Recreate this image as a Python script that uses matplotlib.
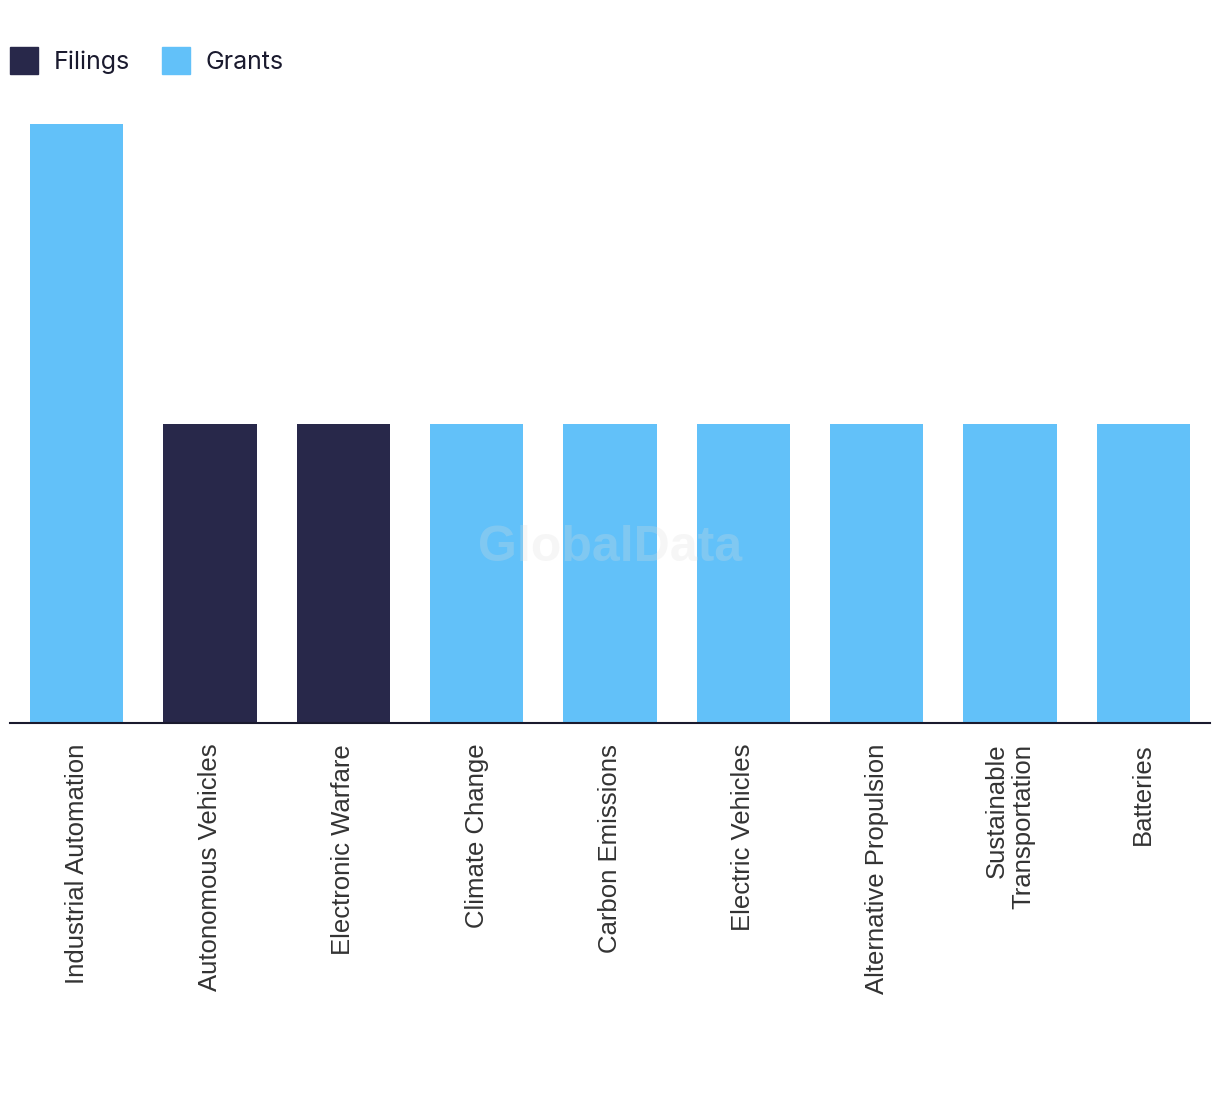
import matplotlib
matplotlib.use('Agg')
import matplotlib.pyplot as plt
from matplotlib.patches import Patch
import numpy as np

categorias = ["Industrial Automation", "Autonomous Vehicles", "Electronic Warfare",
              "Climate Change", "Carbon Emissions", "Electric Vehicles",
              "Alternative Propulsion", "Sustainable\nTransportation", "Batteries"]
filings = [0, 1, 1, 0, 0, 0, 0, 0, 0]
grants = [2, 0, 0, 1, 1, 1, 1, 1, 1]

cor_filings = "#28284a"
cor_grants = "#62c1f9"

fig = plt.figure(figsize=(12.2, 10.94), dpi=100)
ax = fig.add_axes([10/1220, 1 - 723/1094, 1200/1220, (723 - 124)/1094])

x = np.arange(len(categorias))
ax.bar(x, filings, width=0.7, color=cor_filings)
ax.bar(x, grants, width=0.7, bottom=filings, color=cor_grants)

ax.set_xlim(-0.5, len(categorias) - 0.5)
ax.set_ylim(0, 2)
ax.set_yticks([])
ax.set_xticks(x)
ax.set_xticklabels(categorias, rotation=90, ha='center', va='top', multialignment='right',
                   fontsize=18.5, color="#333333", family="Liberation Sans", linespacing=1.1)
ax.tick_params(axis='x', length=0, pad=15)
for s in ["top", "left", "right"]:
    ax.spines[s].set_visible(False)
ax.spines["bottom"].set_linewidth(1.5)
ax.spines["bottom"].set_color("#1a1a2e")

# marca d'agua
fig.text(610/1220, 1 - 548/1094, "GlobalData", ha='center', va='center', fontsize=36,
         fontweight='bold', color="#dddddd", alpha=0.25, family="Liberation Sans")

handles = [Patch(color=cor_filings, label="Filings"), Patch(color=cor_grants, label="Grants")]
fig.legend(handles=handles, loc='upper left', bbox_to_anchor=(0.0, 1 - 37/1094), ncol=2,
           frameon=False, handlelength=1.12, handleheight=1.3,
           handletextpad=0.62, columnspacing=1.28, labelcolor="#1a1a2e", borderaxespad=0,
           prop={'family': 'Inter', 'size': 18})

plt.savefig("out.png", dpi=100)
